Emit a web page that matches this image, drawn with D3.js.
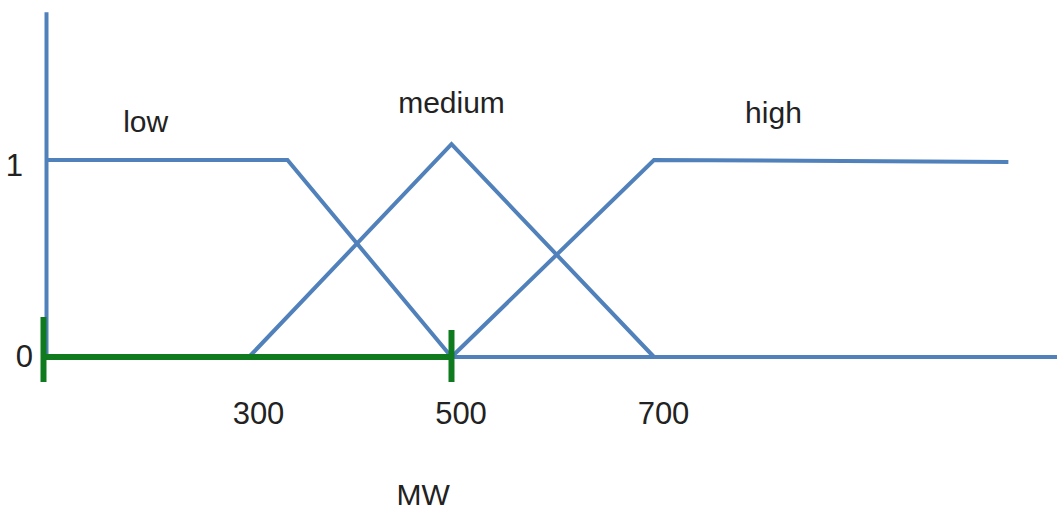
<!DOCTYPE html>
<html lang="en">
<head>
    <meta charset="UTF-8">
    <title>MW fuzzy sets</title>
    <style>
        body { margin: 0; background: #fff; }
        svg { display: block; }
        text {
            font-family: "Liberation Sans", Arial, Helvetica, sans-serif;
            font-size: 30px;
            fill: #222;
        }
        .set { fill: none; stroke: #5181bb; stroke-width: 4px; stroke-linejoin: miter; }
        .axis-line { stroke: #5181bb; stroke-width: 4px; }
        .green { stroke: #0f7a1e; stroke-width: 6px; }
    </style>
</head>
<body>
    <svg width="1057" height="510"></svg>
    <script src="https://d3js.org/d3.v7.min.js"></script>
    <script>
        const width = 1057;
        const height = 510;

        // membership functions, [MW, degree]
        const low = [[100, 1], [338, 1], [500, 0]];
        const medium = [[300, 0], [500, 1.08], [700, 0]];
        const high = [[500, 0], [700, 1], [1050, 0.99]];
        const setNames = ["low", "medium", "high"];
        const labelAt = [[198, 1.14], [500, 1.24], [818, 1.19]];  // where the names sit

        const xTicks = [300, 500, 700];
        const yTicks = [0, 1];
        const selected = [100, 500];  // green range on the axis
        const xLabel = "MW";

        const svg = d3.select("svg");

        const x = d3.scaleLinear().domain([300, 700]).range([249, 654]);
        const y = d3.scaleLinear().domain([0, 1]).range([357, 160]);

        const line = d3.line().x(d => x(d[0])).y(d => y(d[1]));

        // axes lines
        svg.append("line").attr("class", "axis-line")
            .attr("x1", x(100)).attr("x2", x(100))
            .attr("y1", y(1.75)).attr("y2", y(0));
        svg.append("line").attr("class", "axis-line")
            .attr("x1", x(100)).attr("x2", x(1100))
            .attr("y1", y(0)).attr("y2", y(0));

        svg.selectAll(".set")
            .data([low, medium, high])
            .join("path")
            .attr("class", "set")
            .attr("d", line);

        // green selected range with end ticks
        svg.append("line").attr("class", "green")
            .attr("x1", x(selected[0]) - 2).attr("x2", x(selected[1]))
            .attr("y1", y(0)).attr("y2", y(0));
        svg.selectAll(".gtick")
            .data(selected)
            .join("line")
            .attr("class", "green gtick")
            .attr("x1", d => x(d) + (d === selected[0] ? -3 : 0))
            .attr("x2", d => x(d) + (d === selected[0] ? -3 : 0))
            .attr("y1", (d, i) => i === 0 ? 317 : 330)
            .attr("y2", 382);

        // bottom tick labels
        const xAxis = svg.append("g")
            .attr("transform", `translate(9,${y(0) + 42})`)
            .call(d3.axisBottom(x).tickValues(xTicks).tickSize(0).tickFormat(d3.format("d")));
        xAxis.select(".domain").remove();
        xAxis.selectAll("text")
            .attr("fill", "#222")
            .style("font-size", "31px")
            .style("font-family", "'Liberation Sans', Arial, sans-serif");

        const yAxis = svg.append("g")
            .attr("transform", `translate(33,0)`)
            .call(d3.axisLeft(y).tickValues(yTicks).tickSize(0).tickPadding(0).tickFormat(d3.format("d")));
        yAxis.select(".domain").remove();
        yAxis.selectAll("text")
            .attr("fill", "#222")
            .attr("dx", d => d === 1 ? -10 : 0)
            .attr("y", d => d === 1 ? 6 : 0)
            .style("font-size", "31px")
            .style("font-family", "'Liberation Sans', Arial, sans-serif");

        svg.selectAll(".name")
            .data(setNames)
            .join("text")
            .attr("class", "name")
            .attr("text-anchor", "middle")
            .attr("x", (d, i) => x(labelAt[i][0]))
            .attr("y", (d, i) => y(labelAt[i][1]))
            .text(d => d);

        svg.append("text")
            .attr("text-anchor", "middle")
            .attr("x", x(472))
            .attr("y", 505)
            .text(xLabel);
    </script>
</body>
</html>
